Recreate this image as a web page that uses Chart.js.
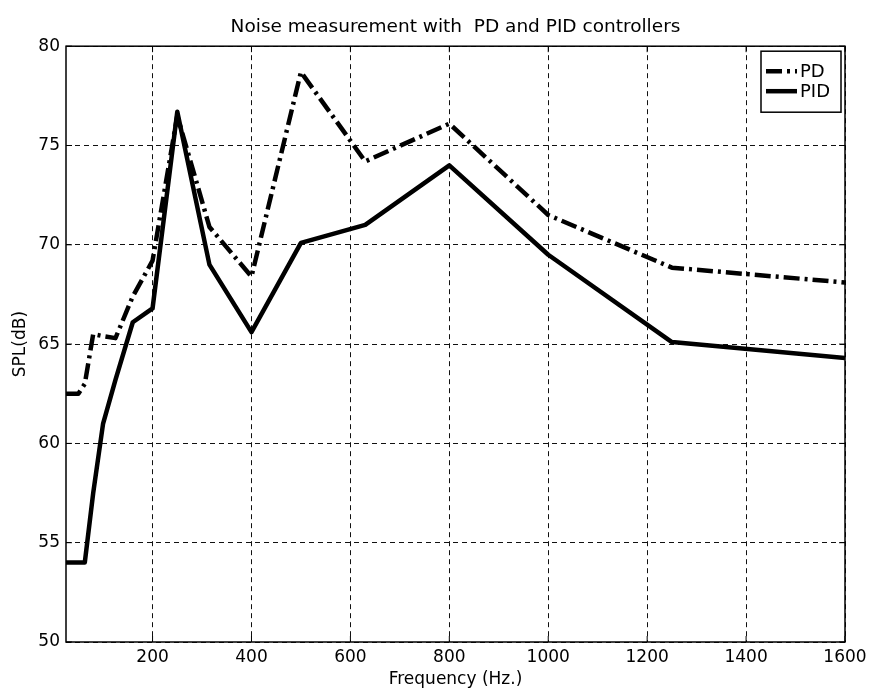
<!DOCTYPE html>
<html>
<head>
<meta charset="utf-8">
<script src="https://cdn.jsdelivr.net/npm/chart.js@4/dist/chart.umd.min.js"></script>
<style>
  html, body { margin: 0; padding: 0; background: #fff; }
  #wrap { width: 869px; height: 694px; }
</style>
</head>
<body>
<div id="wrap"><canvas id="chart" width="869" height="694"></canvas></div>
<script>
// 1/3 octave band centre frequencies (Hz)
const freqs = [25, 31.5, 40, 50, 63, 80, 100, 125, 160, 200, 250, 315, 400, 500, 630, 800, 1000, 1250, 1600];

// SPL readings (dB)
const pdValues = [62.5, 62.5, 62.5, 62.5, 63.0, 65.5, 65.4, 65.3, 67.4, 69.2, 76.5, 70.9, 68.4, 78.7, 74.2, 76.1, 71.5, 68.85, 68.1];
const pidValues = [54, 54, 54, 54, 54, 57.5, 61.0, 63.2, 66.1, 66.8, 76.7, 69.0, 65.6, 70.1, 71.0, 74.0, 69.5, 65.1, 64.3];

const xTicks = [200, 400, 600, 800, 1000, 1200, 1400, 1600];
const yTicks = [50, 55, 60, 65, 70, 75, 80];

const FONT = "'DejaVu Sans', Verdana, sans-serif";

function toPoints(values) {
  return freqs.map((f, i) => ({ x: f, y: values[i] }));
}

// axes box + inward tick marks, like the matlab look
const boxPlugin = {
  id: "box",
  afterDraw(chart) {
    const ctx = chart.ctx;
    const a = chart.chartArea;
    const xs = chart.scales.x;
    const ys = chart.scales.y;
    ctx.save();
    ctx.strokeStyle = "#000";
    ctx.lineWidth = 1.5;
    ctx.setLineDash([]);
    ctx.strokeRect(a.left, a.top, a.right - a.left, a.bottom - a.top);
    ctx.lineWidth = 1;
    ctx.beginPath();
    xTicks.forEach((v) => {
      const px = xs.getPixelForValue(v);
      ctx.moveTo(px, a.bottom);
      ctx.lineTo(px, a.bottom - 6);
      ctx.moveTo(px, a.top);
      ctx.lineTo(px, a.top + 6);
    });
    yTicks.forEach((v) => {
      const py = ys.getPixelForValue(v);
      ctx.moveTo(a.left, py);
      ctx.lineTo(a.left + 6, py);
      ctx.moveTo(a.right, py);
      ctx.lineTo(a.right - 6, py);
    });
    ctx.stroke();
    ctx.restore();
  },
};

// legend box in the upper right corner of the axes
const legendPlugin = {
  id: "boxLegend",
  afterDraw(chart) {
    const ctx = chart.ctx;
    const a = chart.chartArea;
    const right = a.right - 4;
    const top = a.top + 5;
    const w = 80;
    const h = 61;
    const left = right - w;
    ctx.save();
    ctx.fillStyle = "#fff";
    ctx.fillRect(left, top, w, h);
    ctx.strokeStyle = "#000";
    ctx.lineWidth = 1.5;
    ctx.setLineDash([]);
    ctx.strokeRect(left, top, w, h);
    ctx.font = "18px " + FONT;
    ctx.textBaseline = "middle";
    ctx.fillStyle = "#000";
    chart.data.datasets.forEach((ds, i) => {
      const y = top + 20 + i * 20;
      ctx.beginPath();
      ctx.lineWidth = ds.borderWidth;
      ctx.setLineDash(ds.borderDash || []);
      ctx.moveTo(left + 5, y);
      ctx.lineTo(left + 36, y);
      ctx.stroke();
      ctx.setLineDash([]);
      ctx.fillText(ds.label, left + 39, y + 1);
    });
    ctx.restore();
  },
};

const ctx = document.getElementById("chart").getContext("2d");
new Chart(ctx, {
  type: "line",
  data: {
    datasets: [
      {
        label: "PD",
        data: toPoints(pdValues),
        borderColor: "#000",
        borderWidth: 4.5,
        borderDash: [16, 5, 3, 5],
        borderCapStyle: "butt",
        borderJoinStyle: "round",
        pointRadius: 0,
        tension: 0,
        fill: false,
      },
      {
        label: "PID",
        data: toPoints(pidValues),
        borderColor: "#000",
        borderWidth: 4.5,
        borderJoinStyle: "round",
        pointRadius: 0,
        tension: 0,
        fill: false,
      },
    ],
  },
  options: {
    responsive: false,
    animation: false,
    layout: { padding: { left: 0, right: 24, top: 0, bottom: 0 } },
    plugins: {
      legend: { display: false },
      tooltip: { enabled: false },
      title: {
        display: true,
        fullSize: false,
        text: "Noise measurement with  PD and PID controllers",
        color: "#000",
        font: { family: FONT, size: 18.5, weight: "normal" },
        padding: { top: 16, bottom: 8 },
      },
    },
    scales: {
      x: {
        type: "linear",
        min: 25,
        max: 1600,
        afterBuildTicks: (scale) => {
          scale.ticks = xTicks.map((v) => ({ value: v }));
        },
        afterFit: (scale) => {
          scale.height = 52;
          scale.paddingRight = 0;
          scale.paddingLeft = 0;
        },
        grid: { color: "#111", lineWidth: 1, drawTicks: false },
        border: { display: false, dash: [5, 4] },
        ticks: {
          color: "#000",
          padding: 5,
          maxRotation: 0,
          font: { family: FONT, size: 17 },
          callback: (v) => String(v),
        },
        title: {
          display: true,
          text: "Frequency (Hz.)",
          color: "#000",
          font: { family: FONT, size: 17 },
          padding: { top: 0, bottom: 4 },
        },
      },
      y: {
        min: 50,
        max: 80,
        afterBuildTicks: (scale) => {
          scale.ticks = yTicks.map((v) => ({ value: v }));
        },
        afterFit: (scale) => {
          scale.width = 66;
        },
        grid: { color: "#111", lineWidth: 1, drawTicks: false },
        border: { display: false, dash: [5, 4] },
        ticks: {
          color: "#000",
          padding: 6,
          font: { family: FONT, size: 17 },
          callback: (v) => String(v),
        },
        title: {
          display: true,
          text: "SPL(dB)",
          color: "#000",
          font: { family: FONT, size: 17 },
          padding: { top: 10, bottom: 0 },
        },
      },
    },
  },
  plugins: [boxPlugin, legendPlugin],
});
</script>
</body>
</html>
